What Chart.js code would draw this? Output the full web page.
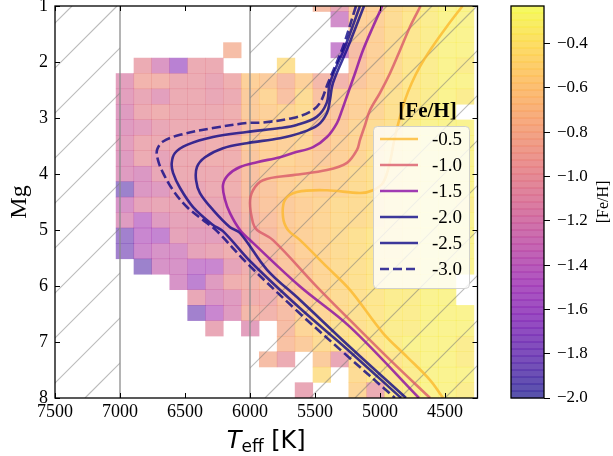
<!DOCTYPE html>
<html>
<head>
<meta charset="utf-8">
<script src="https://cdn.jsdelivr.net/npm/chart.js@4.4.1/dist/chart.umd.min.js"></script>
<style>
  html, body { margin: 0; padding: 0; background: #fff; }
  #wrap { position: relative; width: 613px; height: 456px; }
  #wrap canvas { position: absolute; left: 0; top: 0; }
</style>
</head>
<body>
<div id="wrap">
  <canvas id="hr-diagram" width="613" height="456"></canvas>
  <canvas id="feh-bar" width="613" height="456"></canvas>
</div>
<script>
'use strict';

const _ = null; // empty bin

// isochrones (Teff in K, Mg in mag)
const teff05 = [4365, 4487, 4615, 4692, 4756, 4808, 4846, 4890, 4925, 4975, 5054, 5154, 5408, 5638, 5731, 5746, 5708, 5615, 5410, 5231, 4977, 4794, 4615, 4515];
const mg05   = [1.0, 1.37, 1.79, 2.08, 2.375, 2.68, 2.98, 3.39, 3.80, 4.15, 4.29, 4.34, 4.29, 4.32, 4.46, 4.77, 5.00, 5.18, 5.655, 6.07, 6.84, 7.26, 7.68, 8.0];
const teff10 = [4688, 4769, 4846, 4923, 5000, 5077, 5115, 5154, 5177, 5254, 5408, 5669, 5900, 5977, 6000, 5977, 5946, 5823, 5487, 5231, 4923, 4615];
const mg10   = [1.0, 1.37, 1.79, 2.20, 2.55, 2.86, 3.125, 3.39, 3.57, 3.80, 3.93, 4.02, 4.11, 4.29, 4.52, 4.875, 5.0, 5.18, 6.01, 6.61, 7.32, 8.0];
const teff15 = [4982, 5054, 5131, 5192, 5256, 5292, 5331, 5408, 5515, 5669, 5769, 5946, 6077, 6169, 6208, 6192, 6154, 6077, 5977, 5615, 5231, 4700];
const mg15   = [1.0, 1.37, 1.79, 2.20, 2.62, 2.86, 3.09, 3.34, 3.52, 3.625, 3.70, 3.79, 3.875, 4.02, 4.20, 4.46, 4.70, 5.0, 5.23, 6.01, 6.73, 8.0];
const teff20 = [5123, 5246, 5362, 5385, 5408, 5477, 5615, 5769, 6025, 6208, 6346, 6408, 6415, 6385, 6285, 6154, 6077, 5869, 5615, 5231, 4800];
const mg20   = [1.0, 1.73, 2.375, 2.68, 2.91, 3.125, 3.27, 3.36, 3.45, 3.54, 3.70, 3.875, 4.11, 4.34, 4.64, 4.95, 5.05, 5.71, 6.25, 7.09, 8.0];
const teff25 = [5154, 5269, 5385, 5410, 5487, 5641, 5769, 6025, 6285, 6485, 6577, 6602, 6592, 6538, 6438, 6285, 6208, 5985, 5600, 5262, 4838];
const mg25   = [1.0, 1.73, 2.375, 2.73, 2.98, 3.125, 3.18, 3.25, 3.34, 3.48, 3.625, 3.80, 3.98, 4.25, 4.59, 4.91, 5.02, 5.59, 6.43, 7.11, 8.0];
const teff30 = [5185, 5285, 5400, 5462, 5538, 5669, 5900, 6025, 6285, 6538, 6669, 6715, 6708, 6669, 6592, 6485, 6331, 6254, 6015, 5631, 5285, 4885];
const mg30   = [1.0, 1.73, 2.375, 2.73, 2.89, 3.0, 3.08, 3.09, 3.18, 3.30, 3.42, 3.57, 3.75, 3.98, 4.29, 4.59, 4.875, 5.02, 5.61, 6.46, 7.18, 8.0];

const isoFeH   = [-0.5, -1.0, -1.5, -2.0, -2.5, -3.0];
const isoTeff  = [teff05, teff10, teff15, teff20, teff25, teff30];
const isoMg    = [mg05, mg10, mg15, mg20, mg25, mg30];
const isoLabel = ['-0.5', '-1.0', '-1.5', '-2.0', '-2.5', '-3.0'];

// binned mean [Fe/H]; rows from bright (top) to faint, columns from hot to cool
const binTeffStart = 7031;  // hot edge of first column
const binTeffWidth = 137.7;
const binMgFaint = 8.0;     // faint edge of last row
const binMgHeight = 0.276;
const fehMap = [
  [_,_,_,_,_,_,_,_,_,_,_,-0.80,-1.05,-0.65,-0.60,-0.50,-0.45,-0.35,-0.30,-0.30],
  [_,_,_,_,_,_,_,_,_,_,_,_,-1.35,-0.60,-0.60,-0.50,-0.40,-0.35,-0.30,-0.30],
  [_,_,_,_,_,_,_,_,_,_,_,_,_,-0.65,-0.60,-0.50,-0.40,-0.35,-0.30,-0.30],
  [_,_,_,_,_,_,-0.80,_,_,_,_,_,-1.45,-0.80,-0.60,-0.50,-0.40,-0.35,-0.30,-0.30],
  [_,-1.00,-1.25,-1.60,-1.00,-1.00,_,_,_,-0.45,_,_,_,-0.75,-0.60,-0.50,-0.40,-0.35,-0.30,-0.35],
  [-1.15,-0.90,-0.90,-1.00,-1.00,-1.05,-0.95,-0.60,-0.65,-0.80,-0.60,-0.85,-0.90,-0.70,-0.60,-0.50,-0.40,-0.35,-0.30,-0.30],
  [-1.15,-1.05,-1.15,-1.00,-1.00,-1.05,-1.00,-0.65,-0.55,-0.75,-0.50,-0.75,-0.60,-0.60,-0.55,-0.45,-0.40,-0.35,-0.30,-0.35],
  [-1.20,-1.00,-0.95,-1.00,-1.00,-1.00,-0.95,-0.65,-0.60,-0.55,-0.50,-0.70,-0.70,-0.60,-0.55,-0.45,-0.40,-0.35,-0.30,_],
  [-1.20,-1.15,-1.05,-1.00,-1.00,-1.00,-1.00,-0.75,-0.60,-0.60,-0.55,-0.75,-0.65,-0.55,-0.50,-0.45,-0.35,-0.30,-0.30,-0.30],
  [-1.15,-1.00,-1.00,-1.00,-1.00,-0.95,-0.95,-0.65,-0.60,-0.60,-0.55,-0.70,-0.60,-0.55,-0.50,-0.40,-0.35,-0.30,-0.30,-0.30],
  [-1.20,-1.00,-1.10,-1.00,-1.00,-0.95,-0.95,-0.70,-0.60,-0.55,-0.60,-0.65,-0.60,-0.55,-0.45,-0.40,-0.35,-0.30,-0.30,-0.30],
  [-1.20,-1.25,-1.05,-1.00,-1.00,-1.00,-0.95,-0.75,-0.65,-0.60,-0.60,-0.60,-0.55,-0.50,-0.45,-0.40,-0.35,-0.30,-0.30,-0.30],
  [-1.85,-1.25,-1.20,-1.05,-1.05,-1.00,-0.95,-0.75,-0.70,-0.60,-0.55,-0.60,-0.55,-0.50,-0.45,-0.40,-0.35,-0.30,-0.30,-0.30],
  [-1.30,-1.10,-1.05,-1.05,-1.10,-1.05,-1.00,-0.80,-0.70,-0.65,-0.60,-0.55,-0.50,-0.50,-0.45,-0.40,-0.35,-0.30,-0.30,-0.35],
  [-1.20,-1.45,-1.20,-1.10,-1.10,-1.10,-1.05,-0.85,-0.75,-0.65,-0.60,-0.55,-0.50,-0.50,-0.45,-0.40,-0.35,-0.30,-0.30,-0.30],
  [-1.80,-1.45,-1.50,-1.10,-1.15,-1.15,-1.05,-0.90,-0.80,-0.65,-0.60,-0.55,-0.50,-0.45,-0.40,-0.40,-0.35,-0.30,-0.30,-0.30],
  [-1.80,-1.40,-1.30,-1.30,-1.10,-1.05,-0.95,-0.90,-0.80,-0.70,-0.60,-0.55,-0.50,-0.45,-0.40,-0.40,-0.35,-0.30,-0.30,-0.30],
  [_,-1.85,-1.30,-1.30,-1.45,-1.45,-1.10,-0.95,-0.85,-0.70,-0.65,-0.55,-0.50,-0.45,-0.40,-0.35,-0.35,-0.30,-0.30,-0.30],
  [_,_,_,-1.30,-1.55,-1.20,-0.95,-0.90,-0.80,-0.70,-0.65,-0.55,-0.50,-0.45,-0.40,-0.35,-0.35,-0.30,-0.30,_],
  [_,_,_,_,-1.05,-1.25,-1.20,-0.95,-0.95,-0.75,-0.65,-0.55,-0.50,-0.45,-0.40,-0.35,-0.35,-0.30,-0.30,_],
  [_,_,_,_,-1.80,-1.45,-1.20,-0.85,-0.90,-0.80,-0.60,-0.55,-0.50,-0.45,-0.40,-0.35,-0.35,-0.30,-0.30,-0.30],
  [_,_,_,_,_,-1.05,_,-1.15,_,-0.80,-0.55,-0.50,-0.45,-0.45,-0.40,-0.35,-0.35,-0.30,-0.30,-0.30],
  [_,_,_,_,_,_,_,_,_,-0.75,-0.65,-0.50,-0.45,-0.40,-0.40,-0.35,-0.30,-0.30,-0.30,-0.35],
  [_,_,_,_,_,_,_,_,-0.80,-1.00,_,-0.65,-1.05,-0.50,-0.45,-0.40,-0.35,-0.30,-0.30,-0.35],
  [_,_,_,_,_,_,_,_,_,_,_,-0.45,_,-0.50,-0.40,-0.40,-0.35,-0.30,-0.30,-0.30],
  [_,_,_,_,_,_,_,_,_,_,-1.05,_,_,-0.55,-1.00,-0.40,-0.35,-0.30,-0.30,-0.35]
];

const guideTeff = [7000, 6000];        // vertical guides; hatched outside 7000 and below 6000 K
const xTicks = [7500, 7000, 6500, 6000, 5500, 5000, 4500];
const yTicks = [1, 2, 3, 4, 5, 6, 7, 8];
const cbTicks = [-2.0, -1.8, -1.6, -1.4, -1.2, -1.0, -0.8, -0.6, -0.4];
const fehMin = -2.0, fehMax = -0.23;

// plasma colormap, 11 stops
const plasmaStops = [[13,8,135],[65,4,157],[106,0,168],[143,13,164],[177,42,144],[204,71,120],
                     [225,100,98],[242,132,75],[252,166,54],[252,206,37],[240,249,33]];
function plasma(t, a) {
    t = Math.min(1, Math.max(0, t));
    const f = t * 10, i = Math.min(9, Math.floor(f)), u = f - i;
    const c = plasmaStops[i].map((v, k) => Math.round(v + (plasmaStops[i + 1][k] - v) * u));
    return `rgba(${c[0]},${c[1]},${c[2]},${a})`;
}
const norm = v => (v - fehMin) / (fehMax - fehMin);

const SERIF = '"Liberation Serif", "Times New Roman", serif';
const SANS = '"DejaVu Sans", sans-serif';

function drawHatch(ctx, xl, xr, top, bottom) {
    ctx.save();
    ctx.beginPath();
    ctx.rect(xl, top, xr - xl, bottom - top);
    ctx.clip();
    ctx.strokeStyle = 'rgba(120,120,120,0.5)';
    ctx.lineWidth = 1.2;
    ctx.beginPath();
    for (let c = 33 - 45 * 12; c < 1200; c += 45) { // lines x + y = c
        ctx.moveTo(c - bottom, bottom);
        ctx.lineTo(c - top, top);
    }
    ctx.stroke();
    ctx.restore();
}

const cellsPlugin = {
    id: 'cells',
    beforeDatasetsDraw(chart) {
        const {ctx, chartArea: a, scales: {x, y}} = chart;
        ctx.save();
        ctx.beginPath();
        ctx.rect(a.left, a.top, a.right - a.left, a.bottom - a.top);
        ctx.clip();
        const nRows = fehMap.length;
        fehMap.forEach((row, r) => {
            const mgTop = binMgFaint - (nRows - r) * binMgHeight;
            const y0 = y.getPixelForValue(mgTop), y1 = y.getPixelForValue(mgTop + binMgHeight);
            row.forEach((v, j) => {
                if (v === null) return;
                const x0 = x.getPixelForValue(binTeffStart - j * binTeffWidth);
                const x1 = x.getPixelForValue(binTeffStart - (j + 1) * binTeffWidth);
                ctx.fillStyle = plasma(norm(v), 0.5);
                ctx.fillRect(x0 - 0.2, y0 - 0.2, x1 - x0 + 0.4, y1 - y0 + 0.4);
            });
        });
        ctx.restore();
        drawHatch(ctx, a.left, x.getPixelForValue(guideTeff[0]), a.top, a.bottom);
        drawHatch(ctx, x.getPixelForValue(guideTeff[1]), a.right, a.top, a.bottom);
    },
    afterDatasetsDraw(chart) {
        // legend
        const ctx = chart.ctx;
        ctx.save();
        ctx.fillStyle = 'rgba(255,255,255,0.8)';
        ctx.strokeStyle = 'rgba(204,204,204,0.9)';
        ctx.lineWidth = 1;
        ctx.beginPath();
        ctx.roundRect(373.5, 126.5, 96, 162, 4);
        ctx.fill();
        ctx.stroke();
        ctx.fillStyle = '#000';
        ctx.font = 'bold 21px ' + SERIF;
        ctx.textAlign = 'center';
        ctx.textBaseline = 'middle';
        ctx.fillText('[Fe/H]', 427.5, 112);
        ctx.font = '19px ' + SERIF;
        ctx.textAlign = 'left';
        isoFeH.forEach((feh, i) => {
            const ds = chart.data.datasets[i];
            const ly = 139 + 26 * i;
            ctx.strokeStyle = ds.borderColor;
            ctx.lineWidth = ds.borderWidth;
            ctx.setLineDash(ds.borderDash || []);
            ctx.beginPath();
            ctx.moveTo(380, ly);
            ctx.lineTo(418, ly);
            ctx.stroke();
            ctx.setLineDash([]);
            ctx.fillText(ds.label, 432, ly + 1);
        });
        ctx.restore();
    },
    afterDraw(chart) {
        const {ctx, chartArea: a, scales: {x, y}} = chart;
        ctx.save();
        ctx.strokeStyle = '#000';
        ctx.lineWidth = 1;
        ctx.beginPath();
        xTicks.forEach(t => {
            const px = Math.round(x.getPixelForValue(t)) + 0.5;
            ctx.moveTo(px, a.bottom); ctx.lineTo(px, a.bottom - 5);
            ctx.moveTo(px, a.top); ctx.lineTo(px, a.top + 5);
        });
        yTicks.forEach(t => {
            const py = Math.round(y.getPixelForValue(t)) + 0.5;
            ctx.moveTo(a.left, py); ctx.lineTo(a.left + 5, py);
            ctx.moveTo(a.right, py); ctx.lineTo(a.right - 5, py);
        });
        ctx.stroke();
        ctx.lineWidth = 1.3;
        ctx.strokeRect(a.left, a.top, a.right - a.left, a.bottom - a.top);

        // x title: T_eff [K]
        ctx.fillStyle = '#000';
        ctx.textBaseline = 'alphabetic';
        ctx.textAlign = 'left';
        const fT = 'italic 24px ' + SANS, fSub = '17px ' + SANS, fK = '24px ' + SANS;
        ctx.font = fT; const wT = ctx.measureText('T').width;
        ctx.font = fSub; const wS = ctx.measureText('eff').width;
        ctx.font = fK; const wK = ctx.measureText(' [K]').width;
        let tx = (a.left + a.right) / 2 - (wT + wS + wK) / 2;
        ctx.font = fT; ctx.fillText('T', tx, 448); tx += wT;
        ctx.font = fSub; ctx.fillText('eff', tx, 452); tx += wS;
        ctx.font = fK; ctx.fillText(' [K]', tx, 448);

        // y title
        ctx.translate(20, (a.top + a.bottom) / 2);
        ctx.rotate(-Math.PI / 2);
        ctx.textAlign = 'center';
        ctx.textBaseline = 'middle';
        ctx.font = '24px ' + SERIF;
        ctx.fillText('Mg', 0, 0);
        ctx.restore();
    }
};

const isoDatasets = isoFeH.map((feh, i) => ({
    label: isoLabel[i],
    data: isoTeff[i].map((t, k) => ({x: t, y: isoMg[i][k]})),
    showLine: true,
    pointRadius: 0,
    borderWidth: 2.6,
    borderColor: plasma(norm(feh), 0.8),
    borderDash: feh === -3.0 ? [9, 4] : [],
    tension: 0.35,
    clip: 0,
    order: 0
}));
const guideDatasets = guideTeff.map(t => ({
    label: 'guide',
    data: [{x: t, y: 1}, {x: t, y: 8}],
    showLine: true,
    pointRadius: 0,
    borderWidth: 2,
    borderColor: 'rgba(140,140,140,0.65)',
    order: 1
}));

new Chart(document.getElementById('hr-diagram').getContext('2d'), {
    type: 'scatter',
    data: { datasets: isoDatasets.concat(guideDatasets) },
    options: {
        responsive: false,
        devicePixelRatio: 1,
        animation: false,
        events: [],
        layout: { padding: { left: 0, top: 6, right: 135.5, bottom: 0 } },
        plugins: { legend: { display: false }, tooltip: { enabled: false } },
        scales: {
            x: {
                type: 'linear',
                reverse: true,
                min: 4250,
                max: 7500,
                grid: { display: false, drawTicks: false },
                border: { display: false },
                afterBuildTicks(s) { s.ticks = xTicks.map(v => ({ value: v })); },
                ticks: {
                    autoSkip: false,
                    maxRotation: 0,
                    padding: 3,
                    color: '#000',
                    font: { family: SERIF, size: 18 },
                    callback: v => String(v)
                },
                afterFit(s) { s.height = 58; s.paddingLeft = 0; s.paddingRight = 0; }
            },
            y: {
                type: 'linear',
                reverse: true,
                min: 1,
                max: 8,
                grid: { display: false, drawTicks: false },
                border: { display: false },
                afterBuildTicks(s) { s.ticks = yTicks.map(v => ({ value: v })); },
                ticks: {
                    autoSkip: false,
                    padding: 7,
                    color: '#000',
                    font: { family: SERIF, size: 18 },
                    callback: v => String(v)
                },
                afterFit(s) { s.width = 55; s.paddingTop = 0; s.paddingBottom = 0; }
            }
        }
    },
    plugins: [cellsPlugin]
});

// colour bar
const barPlugin = {
    id: 'fehbar',
    beforeDatasetsDraw(chart) {
        const {ctx, chartArea: a, scales: {y}} = chart;
        const n = 56, step = (fehMax - fehMin) / n;
        ctx.save();
        for (let k = 0; k < n; k++) {
            const v0 = fehMin + k * step, v1 = v0 + step;
            const p0 = y.getPixelForValue(v0), p1 = y.getPixelForValue(v1);
            ctx.fillStyle = plasma(norm((v0 + v1) / 2), 0.7);
            ctx.fillRect(a.left, p1 - 0.35, a.right - a.left, p0 - p1 + 0.7);
        }
        ctx.restore();
    },
    afterDraw(chart) {
        const {ctx, chartArea: a} = chart;
        ctx.save();
        ctx.strokeStyle = '#000';
        ctx.lineWidth = 1.3;
        ctx.strokeRect(a.left, a.top, a.right - a.left, a.bottom - a.top);
        ctx.translate(604, (a.top + a.bottom) / 2);
        ctx.rotate(-Math.PI / 2);
        ctx.fillStyle = '#000';
        ctx.textAlign = 'center';
        ctx.textBaseline = 'middle';
        ctx.font = '16px ' + SERIF;
        ctx.fillText('[Fe/H]', 0, 0);
        ctx.restore();
    }
};

new Chart(document.getElementById('feh-bar').getContext('2d'), {
    type: 'scatter',
    data: { datasets: [] },
    options: {
        responsive: false,
        devicePixelRatio: 1,
        animation: false,
        events: [],
        layout: { padding: { left: 511, top: 6, right: 0, bottom: 58 } },
        plugins: { legend: { display: false }, tooltip: { enabled: false } },
        scales: {
            x: { type: 'linear', display: false, min: 0, max: 1 },
            y: {
                type: 'linear',
                position: 'right',
                min: fehMin,
                max: fehMax,
                grid: { drawOnChartArea: false, drawTicks: true, tickLength: 6, color: '#000', lineWidth: 1 },
                border: { display: false },
                afterBuildTicks(s) { s.ticks = cbTicks.map(v => ({ value: v })); },
                ticks: {
                    autoSkip: false,
                    padding: 7,
                    color: '#000',
                    font: { family: SERIF, size: 17 },
                    callback: v => v.toFixed(1).replace('-', '\u2212')
                },
                afterFit(s) { s.width = 69; s.paddingTop = 0; s.paddingBottom = 0; }
            }
        }
    },
    plugins: [barPlugin]
});
</script>
</body>
</html>
